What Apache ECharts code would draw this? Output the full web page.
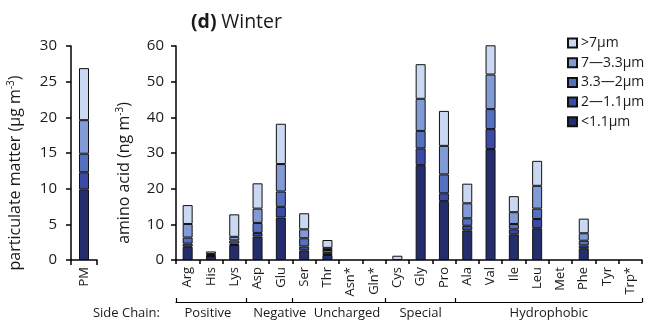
<!DOCTYPE html>
<html><head><meta charset="utf-8">
<script src="https://cdn.jsdelivr.net/npm/echarts@6/dist/echarts.min.js"></script>
<style>html,body{margin:0;padding:0;background:#fff}#c{width:649px;height:321px}</style>
</head><body><div id="c"></div>
<script>
// ---- data ----
const aminoAcids = ['Arg','His','Lys','Asp','Glu','Ser','Thr','Asn*','Gln*','Cys','Gly','Pro','Ala','Val','Ile','Leu','Met','Phe','Tyr','Trp*'];
const sizeBins = ['<1.1μm','2—1.1μm','3.3—2μm','7—3.3μm','>7μm'];
const pmCategories = ['PM'];

// particulate matter (μg m-3), one value per size bin
const pmLt1_1  = [9.9];
const pm1_1to2 = [2.4];
const pm2to3_3 = [2.6];
const pm3_3to7 = [4.7];
const pmGt7    = [7.3];

// amino acids (ng m-3), per size bin
const aaLt1_1  = [3.7,0.9,4.2,6.6,11.9,2.7,1.4,0,0,0,26.6,16.5,8.3,31.1,7.2,8.9,0,3.3,0,0];
const aa1_1to2 = [0.9,0.2,0.4,1.0,3.0,1.1,0.6,0,0,0,4.7,2.2,1.3,5.6,1.4,2.6,0,0.8,0,0];
const aa2to3_3 = [1.7,0.3,0.9,2.8,4.3,2.3,0.8,0,0,0,4.9,5.3,2.1,5.6,1.5,2.9,0,1.3,0,0];
const aa3_3to7 = [3.8,0.3,1.0,4.0,7.7,2.5,0.6,0,0,0,9.0,8.0,4.2,9.7,3.3,6.4,0,2.1,0,0];
const aaGt7    = [5.3,0.7,6.3,7.1,11.3,4.5,2.2,0,0,1.2,9.7,9.8,5.5,8.2,4.5,7.0,0,4.1,0,0];

const pmTicks = [0,5,10,15,20,25,30];
const aaTicks = [0,10,20,30,40,50,60];

// side-chain groups: boundaries (in category units) and names
const groupBounds = [0,3,5,9,12,20];
const groupNames = ['Positive','Negative','Uncharged','Special','Hydrophobic'];
const groupLabelAt = [1.37,4.45,7.34,10.5,16.0];

// ---- style ----
const colors = ['#252e6c','#3b4aa6','#5670c0','#829bd6','#cbd8f1'];
const FONT = 'Open Sans';
const TXT = '#1a1a1a';

const pmSets = [pmLt1_1, pm1_1to2, pm2to3_3, pm3_3to7, pmGt7];
const aaSets = [aaLt1_1, aa1_1to2, aa2to3_3, aa3_3to7, aaGt7];
const nz = a => a.map(v => v === 0 ? null : v);

const series = [];
sizeBins.forEach((name, i) => {
  const common = {
    name, type: 'bar', barWidth: 10, clip: false,
    itemStyle: { color: colors[i], borderColor: '#111', borderWidth: 1 },
    emphasis: { disabled: true }, animation: false
  };
  series.push(Object.assign({}, common, { stack: 'pm', xAxisIndex: 0, yAxisIndex: 0, data: nz(pmSets[i]) }));
  series.push(Object.assign({}, common, { stack: 'aa', xAxisIndex: 1, yAxisIndex: 1, data: nz(aaSets[i]) }));
});

const axisLine = { show: true, lineStyle: { color: '#000', width: 1.5 } };
const axisTick = { show: true, length: 5, lineStyle: { color: '#000', width: 1.5 } };
const supRich = {
  a: { fontFamily: FONT, fontSize: 16, color: TXT },
  s: { fontFamily: FONT, fontSize: 10, color: TXT, verticalAlign: 'top', padding: [0,0,8,0] }
};

const option = {
  animation: false,
  backgroundColor: '#fff',
  textStyle: { fontFamily: FONT, color: TXT },
  title: {
    text: '{b|(d)} {n|Winter}',
    left: 186, top: 7,
    textStyle: { rich: {
      b: { fontFamily: FONT, fontSize: 19.5, fontWeight: 'bold', color: TXT },
      n: { fontFamily: FONT, fontSize: 19.5, fontWeight: 'normal', color: TXT }
    } }
  },
  legend: {
    data: sizeBins.slice().reverse(),
    orient: 'vertical', left: 562, top: 31,
    icon: 'rect', itemWidth: 9, itemHeight: 9, itemGap: 5.7,
    textStyle: { fontFamily: FONT, fontSize: 14, color: TXT, padding: [0,0,0,-1] },
    selectedMode: false
  },
  grid: [
    { left: 71, width: 26, top: 46, bottom: 61, containLabel: false },
    { left: 176, width: 466, top: 46, bottom: 61, containLabel: false }
  ],
  xAxis: [
    { type: 'category', gridIndex: 0, data: pmCategories, axisLine, axisTick,
      axisLabel: { rotate: 90, fontSize: 13, color: TXT, margin: 7, fontFamily: FONT } },
    { type: 'category', gridIndex: 1, data: aminoAcids, axisLine, axisTick: Object.assign({}, axisTick, { length: 4 }),
      axisLabel: { rotate: 90, fontSize: 13, color: TXT, margin: 7, interval: 0, fontFamily: FONT } },
    { type: 'value', gridIndex: 1, min: 0, max: 20, position: 'bottom', offset: 42,
      axisLine: { show: true, lineStyle: { color: '#000', width: 1.2 } },
      axisTick: { show: true, inside: true, length: 4, customValues: groupBounds, lineStyle: { color: '#000', width: 1.2 } },
      axisLabel: { show: true, customValues: groupLabelAt, margin: 5, fontSize: 13, color: TXT, fontFamily: FONT,
        formatter: v => groupNames[groupLabelAt.indexOf(v)] || '' },
      splitLine: { show: false },
      name: 'Side Chain:', nameLocation: 'start', nameGap: 16,
      nameTextStyle: { fontFamily: FONT, fontSize: 13, color: TXT, verticalAlign: 'top', padding: [5,0,0,0] }
    }
  ],
  yAxis: [
    { type: 'value', gridIndex: 0, min: 0, max: 30, interval: 5, axisLine, axisTick,
      axisLabel: { fontSize: 15, color: TXT, margin: 14, fontFamily: FONT },
      splitLine: { show: false },
      name: '{a|particulate matter (μg m}{s|-3}{a|)}', nameLocation: 'middle', nameGap: 47,
      nameTextStyle: { rich: supRich, padding: [0,40,0,0] } },
    { type: 'value', gridIndex: 1, min: 0, max: 60, interval: 10, axisLine, axisTick,
      axisLabel: { fontSize: 15, color: TXT, margin: 12, fontFamily: FONT },
      splitLine: { show: false },
      name: '{a|amino acid (ng m}{s|-3}{a|)}', nameLocation: 'middle', nameGap: 43,
      nameTextStyle: { rich: supRich, padding: [0,40,0,0] } }
  ],
  series
};
const chart = echarts.init(document.getElementById('c'), null, { renderer: 'canvas' });
chart.setOption(option);
</script>
</body></html>
